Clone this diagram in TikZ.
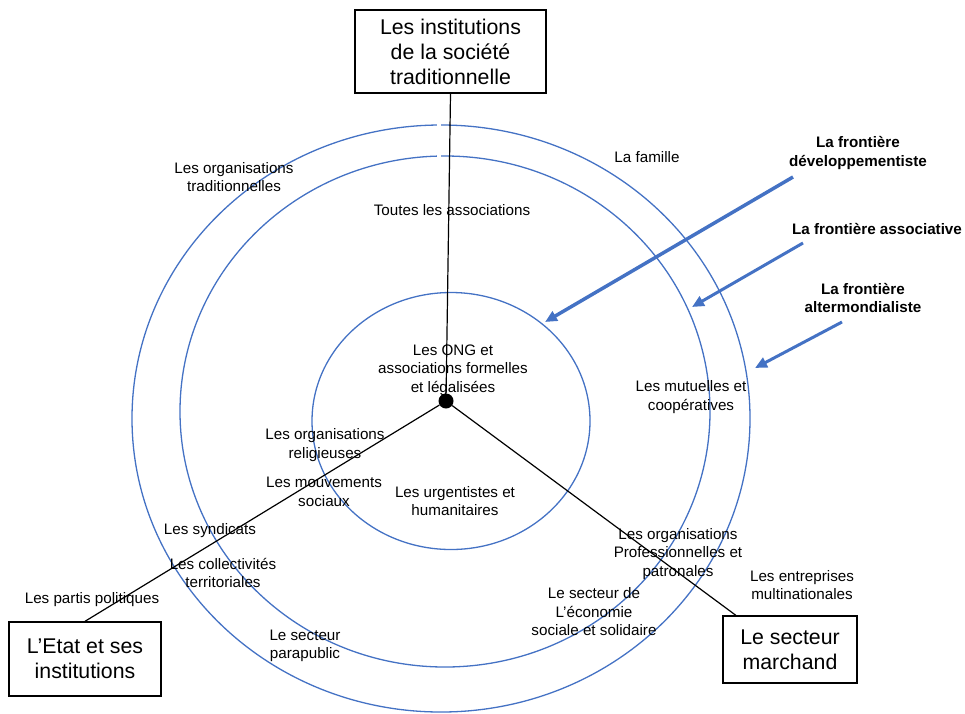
\documentclass[tikz,border=0pt]{standalone}
\usepackage{fontspec}
\setmainfont{Liberation Sans}
\usepackage{xcolor}
\usetikzlibrary{arrows.meta}
\usetikzlibrary{calc}
\definecolor{ringblue}{HTML}{4472C4}
\tikzset{>=stealth}

\begin{document}
\begin{tikzpicture}
	[x=1pt,y=-1pt,
	ring/.style={draw=ringblue,line width=1.3pt},
	spoke/.style={draw=black,line width=1.2pt},
	bigbox/.style={draw,line width=1.4pt,align=center,inner sep=0pt,font=\fontsize{21.3}{25}\selectfont},
	lbl/.style={align=center,inner sep=0pt,font=\fontsize{15.2}{18.5}\selectfont},
	blbl/.style={align=center,inner sep=0pt,font=\fontsize{15.2}{18.5}\selectfont\bfseries},
	frontier/.style={draw=ringblue,line width=3pt,-{Triangle[length=12pt,width=10.5pt]}},
	hubdot/.style={circle,fill=black,minimum size=15pt,inner sep=0pt}]
	\useasboundingbox (0,0) rectangle (965,713);
	% the three frontiers
	\draw[ring] (441,418.5) ellipse [x radius=309, y radius=293.5];
	\draw[ring] (445,411.5) ellipse [x radius=265, y radius=255.5];
	\draw[ring] (451,421) ellipse [x radius=139, y radius=128.5];
	\draw[white,line width=3pt] (437,124.5) -- (441,124.5);
	\draw[white,line width=3pt] (437,156.5) -- (441,156.5);
	% the three poles
	\node [bigbox,minimum width=191pt,minimum height=83pt] (inst) at (450.5,51.5) {Les institutions\\de la société\\traditionnelle};
	\node [bigbox,minimum width=152pt,minimum height=74pt] (etat) at (85,659) {L’Etat et ses\\institutions};
	\node [bigbox,minimum width=134pt,minimum height=67pt] (marche) at (790,649.5) {Le secteur\\marchand};
	\node [hubdot] (hub) at (446,401) {};
	\coordinate (mEnd) at ($(marche.north west)!0.1!(marche.north east)$);
	\draw[spoke] (hub) -- (inst.south);
	\draw[spoke] (hub) -- (etat.north);
	\draw[spoke] (hub) -- (mEnd);
	% labels
	\node [lbl] (trad) at (234,177) {Les organisations\\traditionnelles};
	\node [lbl] (famille) at (647,157) {La famille};
	\node [lbl] (toutes) at (452,210) {Toutes les associations};
	\node [lbl] (ong) at (453,370) {Les ONG et\\associations formelles\\et légalisées};
	\node [lbl] (mutu) at (691,397) {Les mutuelles et\\coopératives};
	\node [lbl] (relig) at (325,445) {Les organisations\\religieuses};
	\node [lbl] (mouv) at (324,492) {Les mouvements\\sociaux};
	\node [lbl] (urg) at (455,501) {Les urgentistes et\\humanitaires};
	\node [lbl] (synd) at (210,531) {Les syndicats};
	\node [lbl] (coll) at (223,573) {Les collectivités\\territoriales};
	\node [lbl] (partis) at (92,600) {Les partis politiques};
	\node [lbl] (para) at (305,646) {Le secteur\\parapublic};
	\node [lbl] (pro) at (678,554) {Les organisations\\Professionnelles et\\patronales};
	\node [lbl] (multi) at (802,585) {Les entreprises\\multinationales};
	\node [lbl] (ess) at (594,612) {Le secteur de\\L’économie\\sociale et solidaire};
	% frontier arrows
	\node [blbl] (fdev) at (858,153) {La frontière\\développementiste};
	\node [blbl] (fasso) at (877,229) {La frontière associative};
	\node [blbl] (falt) at (863,298) {La frontière\\altermondialiste};
	\coordinate (devA) at (793,177);
	\coordinate (devB) at (545,322);
	\coordinate (assoA) at (803,243);
	\coordinate (assoB) at (692,307);
	\coordinate (altA) at (842,322);
	\coordinate (altB) at (755,368);
	\draw[frontier,line width=3.5pt] (devA) -- (devB);
	\draw[frontier] (assoA) -- (assoB);
	\draw[frontier] (altA) -- (altB);
\end{tikzpicture}
\end{document}
